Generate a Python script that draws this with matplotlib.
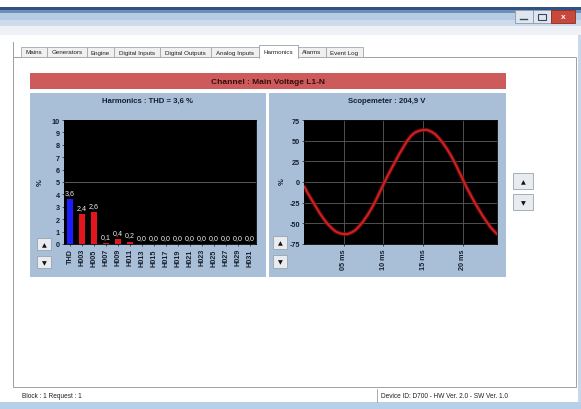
import matplotlib
matplotlib.use("Agg")
import matplotlib.pyplot as plt
from matplotlib.patches import Rectangle

# ---------------- data ----------------
harm_categories = ["THD", "H003", "H005", "H007", "H009", "H011", "H013", "H015",
                   "H017", "H019", "H021", "H023", "H025", "H027", "H029", "H031"]
harm_values = [3.6, 2.4, 2.6, 0.1, 0.4, 0.2, 0.0, 0.0,
               0.0, 0.0, 0.0, 0.0, 0.0, 0.0, 0.0, 0.0]
harm_yticks = [0, 1, 2, 3, 4, 5, 6, 7, 8, 9, 10]

scope_t_ms = [0, 0.5, 1, 1.5, 2, 2.5, 3, 3.5, 4, 4.5, 5, 5.5, 6, 6.5, 7, 7.5, 8, 8.5,
              9, 9.5, 10, 10.5, 11, 11.5, 12, 12.5, 13, 13.5, 14, 14.5, 15, 15.5, 16,
              16.5, 17, 17.5, 18, 18.5, 19, 19.5, 20, 20.5, 21, 21.5, 22, 22.5, 23,
              23.5, 24, 24.3]
scope_values = [-5, -14, -22, -30, -38, -45, -51, -56, -60, -62, -63, -63, -61, -58,
                -53, -47, -40, -32, -23, -13, -3, 7, 16, 25, 34, 42, 50, 56, 60, 62,
                63, 63, 61, 58, 53, 47, 40, 32, 23, 13, 3, -7, -16, -25, -33, -41,
                -48, -55, -60, -63]
scope_xticks = [5, 10, 15, 20]
scope_xticklabels = ["05 ms", "10 ms", "15 ms", "20 ms"]
scope_yticks = [-75, -50, -25, 0, 25, 50, 75]

tab_labels = ["Mains", "Generators", "Engine", "Digital Inputs", "Digital Outputs",
              "Analog Inputs", "Harmonics", "Alarms", "Event Log"]
harm_title = "Harmonics : THD = 3,6 %"
scope_title = "Scopemeter : 204,9 V"
banner_text = "Channel : Main Voltage L1-N"
status_left = "Block : 1 Request : 1"
status_right = "Device ID: D700 - HW Ver. 2.0 - SW Ver. 1.0"

# ---------------- layout ----------------
W, H = 581, 410
tab_edges = [21, 47, 87, 114, 160, 211, 259, 298, 326, 363]
selected_tab = 6

plt.rcParams['font.family'] = ['Liberation Sans', 'DejaVu Sans']

fig = plt.figure(figsize=(W / 100, H / 100), dpi=100)
fig.patch.set_facecolor('white')

bg = fig.add_axes([0, 0, 1, 1])
bg.set_xlim(0, W)
bg.set_ylim(H, 0)
bg.axis('off')


def rect(x0, y0, x1, y1, fc, ec='none', lw=0.6, z=1):
    bg.add_patch(Rectangle((x0, y0), x1 - x0, y1 - y0, facecolor=fc,
                           edgecolor=ec, linewidth=lw, zorder=z))


# window title bar
rect(0, 8, W, 11, '#2f5282')
rect(0, 11, W, 14, '#6f8fb6')
rect(0, 14, W, 21, '#b7cbe2')
rect(0, 21, W, 27, '#cddbeb')
rect(0, 27, W, 36, '#eef2f6')
# window buttons
rect(515, 11, 533, 24, '#dfe6ef', '#8c99a8', 0.6, 2)
rect(533, 11, 551, 24, '#dfe6ef', '#8c99a8', 0.6, 2)
rect(551, 11, 575, 24, '#c9483c', '#8a2d25', 0.6, 2)
bg.plot([520, 527], [20, 20], color='#33475e', lw=1.0, zorder=3)
rect(538, 14.5, 546, 20.5, 'none', '#33475e', 0.8, 3)
bg.text(563, 17.8, "x", ha='center', va='center', fontsize=6, color='white',
        fontweight='bold', zorder=3)

# tab panel
rect(13, 58, 576, 388, 'white', '#9aa0a6', 0.7, 1)
bg.plot([13, 13], [43, 58], color='#9aa0a6', lw=0.7)
for i, lab in enumerate(tab_labels):
    x0, x1 = tab_edges[i], tab_edges[i + 1]
    if i == selected_tab:
        rect(x0, 46, x1, 58.6, 'white', '#9aa0a6', 0.6, 3)
        rect(x0 + 0.5, 57.5, x1 - 0.5, 59.5, 'white', 'none', 0, 4)
    else:
        rect(x0, 48, x1, 58, '#f0f0f0', '#a3a8ad', 0.6, 2)
    bg.text((x0 + x1) / 2, 53, lab, ha='center', va='center', fontsize=4.5,
            color='#222222', zorder=5)

# banner
rect(30, 74, 506, 90, '#cd5b5b')
bg.text(268, 82.3, banner_text, ha='center', va='center', fontsize=6,
        fontweight='bold', color='#3a0c0c')

# chart panels
panel_col = '#a9bfd8'
rect(30, 94, 266, 278, panel_col)
rect(269, 94, 506, 278, panel_col)
bg.text(148, 101.5, harm_title, ha='center', va='center', fontsize=5.6,
        fontweight='bold', color='#15202e')
bg.text(387, 101.5, scope_title, ha='center', va='center', fontsize=5.6,
        fontweight='bold', color='#15202e')
bg.text(40, 183, "%", ha='center', va='center', fontsize=5.5, rotation=90,
        fontweight='bold', color='#15202e')
bg.text(282, 182, "%", ha='center', va='center', fontsize=5.5, rotation=90,
        fontweight='bold', color='#15202e')


def button(x0, y0, x1, y1, glyph):
    rect(x0, y0, x1, y1, '#e8ebef', '#9aa3ad', 0.6, 2)
    bg.text((x0 + x1) / 2, (y0 + y1) / 2 + 0.5, glyph, ha='center', va='center',
            fontsize=4.5, color='#111111', family='DejaVu Sans', zorder=3)


button(37, 239, 51, 251, "\u25B2")
button(37, 257, 51, 269, "\u25BC")
button(273, 237, 287, 250, "\u25B2")
button(273, 256, 287, 269, "\u25BC")
button(513, 174, 533, 190, "\u25B2")
button(513, 195, 533, 211, "\u25BC")

# status bar
bg.plot([377, 377], [390, 403], color='#a0a0a0', lw=0.6)
bg.text(22, 397, status_left, ha='left', va='center', fontsize=4.7, color='#222222')
bg.text(381, 397, status_right, ha='left', va='center', fontsize=4.7, color='#222222')
rect(0, 403, W, H, '#b8cfe8')
rect(578, 36, W, 403, '#c6d8ec')


def px(x0, y0, x1, y1):
    return [x0 / W, 1 - y1 / H, (x1 - x0) / W, (y1 - y0) / H]


tick_col = '#15202e'

# ---------------- harmonics bar chart ----------------
ax1 = fig.add_axes(px(64, 121, 256, 245))
ax1.set_facecolor('black')
xs = list(range(len(harm_categories)))
colors = ['#1c1cff'] + ['#e3161e'] * (len(harm_categories) - 1)
ax1.bar(xs, harm_values, width=0.55, color=colors, zorder=3)
ax1.axhline(5, color='#6a6a6a', lw=0.6, zorder=1)
for x, v in zip(xs, harm_values):
    ax1.text(x, v + 0.25, f"{v:.1f}".replace('.', ','), ha='center', va='bottom',
             fontsize=5.1, color='#f0f0f0', zorder=4)
ax1.set_xlim(-0.5, len(harm_categories) - 0.5)
ax1.set_ylim(0, 10)
ax1.set_yticks(harm_yticks)
ax1.set_xticks(xs)
ax1.set_xticklabels(harm_categories, rotation=90)
ax1.tick_params(axis='both', labelsize=5.2, colors=tick_col, length=1.5, width=0.5, pad=1.5)
for lab in ax1.get_xticklabels() + ax1.get_yticklabels():
    lab.set_fontweight('bold')
for s in ax1.spines.values():
    s.set_color('black')
    s.set_linewidth(0.6)

# ---------------- scopemeter ----------------
ax2 = fig.add_axes(px(304, 121, 497, 245))
ax2.set_facecolor('black')
for yv in scope_yticks:
    ax2.axhline(yv, color='#5c5c5c', lw=0.6, zorder=1)
for xv in scope_xticks:
    ax2.axvline(xv, color='#5c5c5c', lw=0.6, zorder=1)
ax2.plot(scope_t_ms, scope_values, color='#7a1010', lw=3.0, alpha=0.7, zorder=2,
         solid_capstyle='round')
ax2.plot(scope_t_ms, scope_values, color='#d42020', lw=1.4, zorder=3,
         solid_capstyle='round')
ax2.set_xlim(0, 24.3)
ax2.set_ylim(-75, 75)
ax2.set_yticks(scope_yticks)
ax2.set_yticklabels([str(v) for v in scope_yticks])
ax2.set_xticks(scope_xticks)
ax2.set_xticklabels(scope_xticklabels, rotation=90)
ax2.tick_params(axis='both', labelsize=5.2, colors=tick_col, length=1.5, width=0.5, pad=1.5)
for lab in ax2.get_xticklabels() + ax2.get_yticklabels():
    lab.set_fontweight('bold')
for s in ax2.spines.values():
    s.set_color('black')
    s.set_linewidth(0.6)

fig.savefig("out.png", dpi=100, facecolor=fig.get_facecolor())
